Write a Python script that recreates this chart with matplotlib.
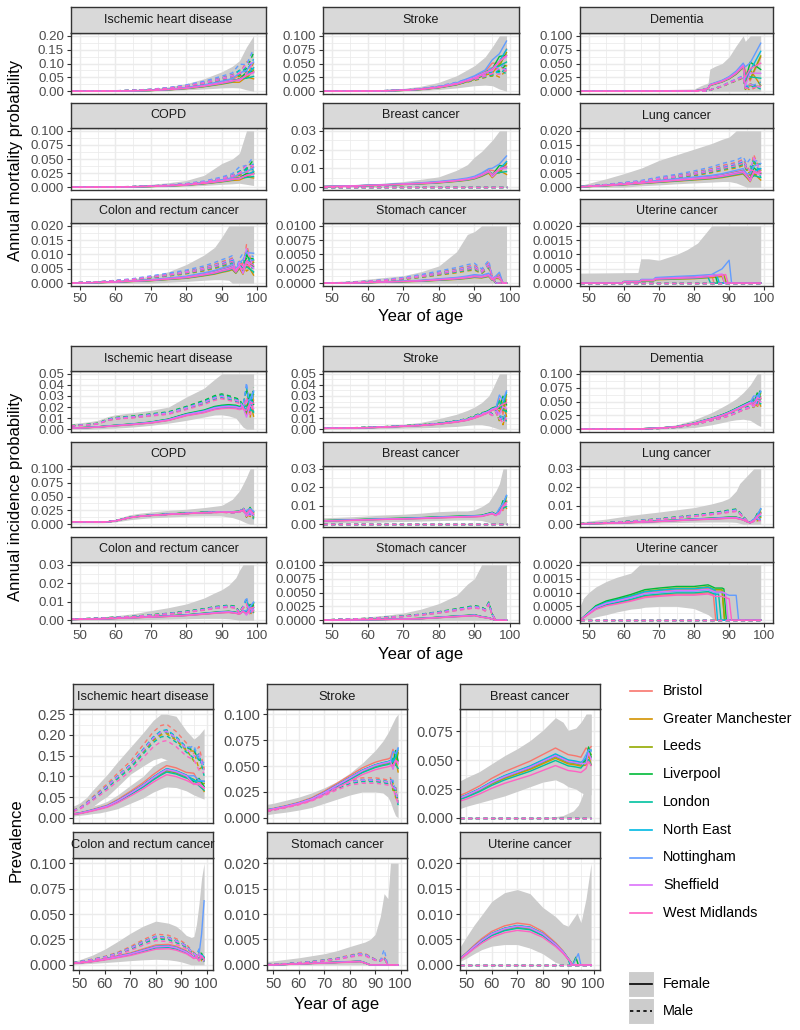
import numpy as np
import matplotlib
matplotlib.use("Agg")
import matplotlib.pyplot as plt
from matplotlib.patches import Rectangle

plt.rcParams['font.family'] = ['Liberation Sans', 'DejaVu Sans']

W, H = 800, 1030

REGIONS = ["Bristol", "Greater Manchester", "Leeds", "Liverpool", "London",
           "North East", "Nottingham", "Sheffield", "West Midlands"]
COLORS = ["#F8766D", "#D39200", "#93AA00", "#00BA38", "#00C19F",
          "#00B9E3", "#619CFF", "#DB72FB", "#FF61C3"]
SEXES = ["Female", "Male"]
X_TICKS = [50, 60, 70, 80, 90, 100]

# relative level of each region
REGION_SCALE_MORT = [1.10, 0.85, 0.95, 1.05, 0.90, 1.00, 1.20, 1.05, 0.95]
REGION_SCALE_INC = [0.95, 1.02, 1.05, 1.08, 0.97, 1.04, 1.00, 1.01, 0.93]
REGION_SCALE_PREV = [1.12, 0.98, 1.00, 1.03, 0.95, 1.04, 1.01, 1.02, 0.88]
# old-age noise of each region (last three points)
REGION_TAIL_F = [[1.3, 0.7, 1.2], [0.7, 1.2, 0.5], [1.1, 0.8, 1.3], [0.8, 1.4, 0.9],
                 [1.2, 0.9, 0.7], [0.9, 1.1, 1.4], [1.4, 1.3, 1.5], [0.6, 1.0, 0.8],
                 [1.0, 1.2, 1.1]]
REGION_TAIL_M = [[0.8, 1.4, 0.7], [1.3, 0.5, 1.2], [0.7, 1.2, 0.9], [1.2, 0.9, 1.4],
                 [1.0, 1.5, 0.6], [1.3, 0.8, 1.1], [1.5, 1.0, 1.3], [0.9, 1.3, 0.8],
                 [1.1, 0.7, 1.0]]

# ---------------- Mortality ----------------
M_IHD_AGE = [47.5, 55, 60, 65, 70, 75, 80, 85, 90, 93, 95, 97, 99]
M_IHD_F = [0.0, 0.0003, 0.0007, 0.0015, 0.003, 0.006, 0.011, 0.019, 0.03, 0.038, 0.045, 0.055, 0.07]
M_IHD_M = [0.0002, 0.0008, 0.0015, 0.003, 0.006, 0.011, 0.019, 0.03, 0.045, 0.055, 0.065, 0.08, 0.11]
M_IHD_LO = [0, 0, 0, 0, 0.001, 0.002, 0.005, 0.008, 0.012, 0.013, 0.012, 0.005, 0.0]
M_IHD_HI = [0.001, 0.002, 0.003, 0.005, 0.009, 0.016, 0.027, 0.045, 0.07, 0.09, 0.11, 0.16, 0.2]

M_STROKE_AGE = [47.5, 55, 60, 65, 70, 75, 80, 85, 90, 93, 95, 97, 99]
M_STROKE_F = [0.0, 0.0002, 0.0004, 0.0008, 0.0017, 0.0035, 0.007, 0.013, 0.024, 0.033, 0.042, 0.052, 0.065]
M_STROKE_M = [0.0, 0.0002, 0.0005, 0.001, 0.002, 0.004, 0.008, 0.014, 0.022, 0.028, 0.032, 0.036, 0.04]
M_STROKE_LO = [0, 0, 0, 0, 0.0005, 0.001, 0.003, 0.006, 0.01, 0.011, 0.01, 0.004, 0.0]
M_STROKE_HI = [0.0005, 0.001, 0.0015, 0.003, 0.005, 0.009, 0.016, 0.028, 0.046, 0.062, 0.08, 0.1, 0.1]

M_DEMENTIA_AGE = [47.5, 80, 82, 84, 84.5, 86, 88, 90, 92, 94, 94.6, 96, 99]
M_DEMENTIA_F = [0, 0.0005, 0.002, 0.005, 0.011, 0.014, 0.018, 0.024, 0.033, 0.046, 0.025, 0.032, 0.045]
M_DEMENTIA_M = [0, 0, 0, 0.0005, 0.002, 0.005, 0.009, 0.015, 0.02, 0.026, 0.006, 0.008, 0.01]
M_DEMENTIA_LO = [0, 0, 0, 0, 0, 0, 0, 0, 0, 0, 0, 0, 0]
M_DEMENTIA_HI = [0, 0.004, 0.01, 0.015, 0.04, 0.045, 0.05, 0.062, 0.082, 0.1, 0.09, 0.1, 0.1]

M_COPD_AGE = [47.5, 55, 60, 65, 70, 75, 80, 85, 90, 93, 95, 97, 99]
M_COPD_F = [0, 0.0001, 0.0003, 0.0007, 0.0014, 0.0025, 0.004, 0.007, 0.011, 0.014, 0.017, 0.02, 0.024]
M_COPD_M = [0, 0.0002, 0.0005, 0.001, 0.002, 0.0035, 0.0055, 0.009, 0.015, 0.02, 0.025, 0.032, 0.04]
M_COPD_LO = [0, 0, 0, 0, 0.0003, 0.0008, 0.0015, 0.003, 0.005, 0.006, 0.007, 0.005, 0.003]
M_COPD_HI = [0.0003, 0.0008, 0.0015, 0.003, 0.005, 0.008, 0.012, 0.021, 0.042, 0.05, 0.06, 0.1, 0.1]

M_BREAST_AGE = [47.5, 55, 60, 65, 70, 75, 80, 85, 88, 90, 92, 94, 95, 97, 99]
M_BREAST_F = [0.0003, 0.0006, 0.0009, 0.0012, 0.0016, 0.002, 0.0026, 0.0035, 0.0042, 0.005, 0.0065, 0.0085, 0.007, 0.009, 0.011]
M_BREAST_M = [0, 0, 0, 0, 0, 0, 0, 0, 0, 0, 0, 0, 0, 0, 0]
M_BREAST_LO = [0, 0, 0, 0, 0, 0, 0, 0, 0, 0, 0, 0, 0, 0, 0]
M_BREAST_HI = [0.0008, 0.0012, 0.0016, 0.0022, 0.003, 0.0042, 0.0055, 0.009, 0.012, 0.016, 0.019, 0.023, 0.025, 0.03, 0.03]

M_LUNG_AGE = [47.5, 55, 60, 65, 70, 75, 80, 85, 88, 90, 92, 94, 95, 96, 97, 99]
M_LUNG_F = [0.0001, 0.0006, 0.001, 0.0015, 0.002, 0.0025, 0.003, 0.0035, 0.004, 0.0045, 0.005, 0.0055, 0.004, 0.003, 0.005, 0.005]
M_LUNG_M = [0.0002, 0.0008, 0.0014, 0.002, 0.003, 0.0038, 0.0048, 0.006, 0.007, 0.0075, 0.008, 0.009, 0.007, 0.006, 0.008, 0.006]
M_LUNG_LO = [0, 0, 0, 0.0005, 0.0008, 0.0012, 0.0015, 0.0018, 0.002, 0.002, 0.0015, 0.0005, 0, 0, 0, 0]
M_LUNG_HI = [0.0006, 0.003, 0.0048, 0.0068, 0.0095, 0.0115, 0.0135, 0.0155, 0.017, 0.0178, 0.02, 0.02, 0.02, 0.02, 0.02, 0.02]

M_COLON_AGE = [47.5, 55, 60, 65, 70, 75, 80, 85, 88, 90, 92, 93, 94, 95, 96, 97, 99]
M_COLON_F = [0, 0.0002, 0.0004, 0.0007, 0.001, 0.0015, 0.002, 0.003, 0.0037, 0.0044, 0.005, 0.0055, 0.004, 0.006, 0.005, 0.007, 0.006]
M_COLON_M = [0.0001, 0.0004, 0.0008, 0.0013, 0.0021, 0.0029, 0.0038, 0.005, 0.006, 0.0068, 0.0075, 0.008, 0.004, 0.007, 0.006, 0.009, 0.006]
M_COLON_LO = [0, 0, 0, 0, 0, 0.0003, 0.0006, 0.001, 0.0012, 0.0012, 0.001, 0, 0, 0, 0, 0, 0]
M_COLON_HI = [0.0002, 0.0006, 0.001, 0.0015, 0.0025, 0.004, 0.0065, 0.0098, 0.0125, 0.016, 0.02, 0.02, 0.02, 0.02, 0.02, 0.02, 0.02]

M_STOMACH_AGE = [47.5, 55, 60, 65, 70, 75, 80, 85, 88, 90, 92, 94, 95, 96, 97, 98, 99]
M_STOMACH_F = [0, 0, 0.0001, 0.0002, 0.0003, 0.0004, 0.0006, 0.0008, 0.001, 0.0012, 0.0011, 0.0014, 0.0006, 0.001, 0.0012, 0, 0]
M_STOMACH_M = [0, 0.0001, 0.0003, 0.0005, 0.0008, 0.0012, 0.0017, 0.0022, 0.0026, 0.0028, 0.002, 0.0032, 0.001, 0, 0, 0, 0]
M_STOMACH_LO = [0, 0, 0, 0, 0, 0, 0, 0, 0, 0, 0, 0, 0, 0, 0, 0, 0]
M_STOMACH_HI = [0.0002, 0.0004, 0.0007, 0.001, 0.0013, 0.002, 0.003, 0.0055, 0.0085, 0.009, 0.01, 0.01, 0.01, 0.01, 0.01, 0.01, 0.01]

M_UTERINE_AGE = [47.5, 59.5, 60, 64.5, 65, 68.5, 69, 75, 80, 85, 88, 90, 99]
M_UTERINE_F = [0, 0, 0.00005, 0.00005, 0.0001, 0.0001, 0.00015, 0.00018, 0.0002, 0.00025, 0.0003, 0.00035, 0.00035]
M_UTERINE_M = [0, 0, 0, 0, 0, 0, 0, 0, 0, 0, 0, 0, 0]
M_UTERINE_RAGE = [47.5, 64, 64.8, 67, 70, 75, 78, 81, 83, 85, 99]
M_UTERINE_LO = [0, 0, 0, 0, 0, 0, 0, 0, 0, 0, 0]
M_UTERINE_HI = [0.00035, 0.00037, 0.00085, 0.00085, 0.0008, 0.001, 0.00117, 0.0014, 0.0017, 0.002, 0.002]
M_UTERINE_END = [85, 88, 88.5, 86, 84, 86.5, 90, 88, 89]

# ---------------- Incidence ----------------
I_IHD_AGE = [47.5, 52, 55, 58, 60, 65, 70, 75, 80, 85, 88, 90, 92, 94, 95, 96, 97, 98, 99]
I_IHD_F = [0.001, 0.0015, 0.002, 0.0028, 0.0033, 0.0045, 0.006, 0.0085, 0.013, 0.016, 0.019, 0.02, 0.0205, 0.02, 0.019, 0.02, 0.018, 0.021, 0.023]
I_IHD_M = [0.003, 0.004, 0.005, 0.0085, 0.0098, 0.011, 0.0128, 0.0145, 0.019, 0.024, 0.028, 0.0295, 0.028, 0.026, 0.025, 0.02, 0.028, 0.02, 0.025]
I_IHD_LO = [0, 0, 0.0003, 0.0008, 0.001, 0.002, 0.0035, 0.0055, 0.008, 0.011, 0.0128, 0.013, 0.012, 0.01, 0.006, 0.002, 0, 0, 0]
I_IHD_HI = [0.005, 0.0065, 0.008, 0.0115, 0.013, 0.015, 0.017, 0.02, 0.029, 0.037, 0.045, 0.05, 0.05, 0.05, 0.05, 0.05, 0.05, 0.05, 0.05]

I_STROKE_AGE = [47.5, 55, 60, 65, 70, 75, 80, 85, 88, 90, 92, 94, 95, 96, 97, 98, 99]
I_STROKE_F = [0.0008, 0.0011, 0.0014, 0.002, 0.0027, 0.0035, 0.0048, 0.0068, 0.0085, 0.0105, 0.013, 0.016, 0.018, 0.019, 0.022, 0.02, 0.023]
I_STROKE_M = [0.0008, 0.0012, 0.0016, 0.0022, 0.003, 0.0038, 0.005, 0.0072, 0.009, 0.0115, 0.014, 0.015, 0.013, 0.016, 0.01, 0.008, 0.012]
I_STROKE_LO = [0, 0.0002, 0.0004, 0.0006, 0.001, 0.0013, 0.0018, 0.0025, 0.0035, 0.004, 0.004, 0.003, 0.002, 0.001, 0, 0, 0]
I_STROKE_HI = [0.0018, 0.0022, 0.0027, 0.0035, 0.0045, 0.0062, 0.0095, 0.0135, 0.017, 0.02, 0.024, 0.03, 0.036, 0.043, 0.05, 0.05, 0.05]

I_DEMENTIA_AGE = [47.5, 60, 65, 70, 75, 80, 85, 88, 90, 92, 94, 96, 97, 98, 99]
I_DEMENTIA_F = [0, 0.0002, 0.0008, 0.002, 0.0045, 0.0105, 0.019, 0.025, 0.03, 0.036, 0.042, 0.048, 0.05, 0.052, 0.055]
I_DEMENTIA_M = [0, 0.0002, 0.0006, 0.0015, 0.0035, 0.0085, 0.016, 0.021, 0.025, 0.03, 0.036, 0.04, 0.045, 0.05, 0.06]
I_DEMENTIA_LO = [0, 0, 0, 0, 0.001, 0.003, 0.008, 0.012, 0.015, 0.017, 0.018, 0.016, 0.012, 0.008, 0.005]
I_DEMENTIA_HI = [0, 0.0008, 0.0018, 0.0035, 0.008, 0.017, 0.03, 0.04, 0.047, 0.055, 0.066, 0.08, 0.09, 0.1, 0.1]

I_COPD_AGE = [47.5, 52, 56, 58, 60, 62, 64, 67, 70, 75, 80, 85, 90, 93, 95, 96, 97, 98, 99]
I_COPD_F = [0.0045, 0.0042, 0.004, 0.0045, 0.006, 0.009, 0.012, 0.0145, 0.016, 0.018, 0.0195, 0.021, 0.022, 0.022, 0.023, 0.025, 0.02, 0.024, 0.018]
I_COPD_M = [0.0045, 0.0042, 0.004, 0.0045, 0.006, 0.009, 0.012, 0.0145, 0.016, 0.018, 0.0195, 0.021, 0.022, 0.021, 0.022, 0.03, 0.015, 0.02, 0.012]
I_COPD_LO = [0.0025, 0.0025, 0.0025, 0.003, 0.004, 0.006, 0.008, 0.01, 0.0115, 0.013, 0.0145, 0.015, 0.015, 0.012, 0.008, 0.005, 0.002, 0, 0]
I_COPD_HI = [0.0065, 0.006, 0.0058, 0.0065, 0.009, 0.013, 0.017, 0.02, 0.022, 0.025, 0.027, 0.03, 0.034, 0.045, 0.06, 0.072, 0.085, 0.1, 0.1]

I_BREAST_AGE = [47.5, 55, 60, 65, 70, 75, 80, 85, 88, 90, 92, 94, 95, 96, 97, 98, 99]
I_BREAST_F = [0.0018, 0.0022, 0.0025, 0.0028, 0.003, 0.0033, 0.0037, 0.004, 0.0042, 0.0043, 0.0045, 0.0055, 0.006, 0.005, 0.007, 0.0095, 0.012]
I_BREAST_M = [0, 0, 0, 0, 0, 0, 0, 0, 0, 0, 0, 0, 0, 0, 0, 0, 0]
I_BREAST_LO = [0.0005, 0.0008, 0.001, 0.0012, 0.0015, 0.0017, 0.002, 0.0022, 0.0023, 0.0022, 0.002, 0.001, 0, 0, 0, 0, 0]
I_BREAST_HI = [0.0035, 0.004, 0.0045, 0.005, 0.0054, 0.006, 0.0068, 0.0072, 0.0072, 0.0078, 0.0095, 0.012, 0.015, 0.018, 0.022, 0.03, 0.03]

I_LUNG_AGE = [47.5, 55, 60, 65, 70, 75, 80, 85, 88, 90, 92, 93, 94, 95, 96, 97, 98, 99]
I_LUNG_F = [0.0002, 0.0005, 0.0008, 0.0012, 0.0016, 0.0021, 0.0026, 0.003, 0.0033, 0.0035, 0.0035, 0.003, 0.0025, 0.0015, 0.0008, 0.002, 0.004, 0.006]
I_LUNG_M = [0.0003, 0.0008, 0.0013, 0.002, 0.0027, 0.0036, 0.0045, 0.0056, 0.0064, 0.007, 0.0075, 0.006, 0.004, 0.002, 0.001, 0.002, 0.003, 0.002]
I_LUNG_LO = [0, 0, 0.0002, 0.0004, 0.0007, 0.0009, 0.0011, 0.0012, 0.0012, 0.0012, 0.001, 0.0005, 0, 0, 0, 0, 0, 0]
I_LUNG_HI = [0.0012, 0.0028, 0.0042, 0.0055, 0.0066, 0.0078, 0.009, 0.011, 0.0125, 0.014, 0.018, 0.022, 0.024, 0.026, 0.028, 0.03, 0.03, 0.03]

I_COLON_AGE = [47.5, 55, 60, 65, 70, 75, 80, 85, 88, 90, 92, 94, 95, 96, 97, 98, 99]
I_COLON_F = [0.0004, 0.0007, 0.001, 0.0014, 0.0018, 0.0022, 0.0027, 0.0035, 0.004, 0.0043, 0.0045, 0.004, 0.0035, 0.005, 0.004, 0.006, 0.007]
I_COLON_M = [0.0006, 0.001, 0.0015, 0.002, 0.0027, 0.0035, 0.0045, 0.0058, 0.0068, 0.0072, 0.0075, 0.007, 0.004, 0.007, 0.009, 0.004, 0.006]
I_COLON_LO = [0, 0, 0, 0.0002, 0.0004, 0.0006, 0.0008, 0.001, 0.001, 0.001, 0.0008, 0.0003, 0, 0, 0, 0, 0]
I_COLON_HI = [0.0009, 0.0017, 0.0024, 0.0035, 0.0052, 0.0068, 0.0088, 0.012, 0.0148, 0.0165, 0.019, 0.023, 0.027, 0.03, 0.03, 0.03, 0.03]

I_STOMACH_AGE = [47.5, 55, 60, 65, 70, 75, 80, 85, 88, 90, 92, 93, 94, 95, 96, 97, 99]
I_STOMACH_F = [0, 0.00005, 0.0001, 0.00015, 0.0002, 0.0003, 0.0005, 0.0007, 0.0008, 0.0009, 0.0006, 0.0005, 0.0004, 0.0002, 0, 0, 0]
I_STOMACH_M = [0.00005, 0.0002, 0.0003, 0.0005, 0.0007, 0.001, 0.0014, 0.0019, 0.0022, 0.0024, 0.0022, 0.0018, 0.003, 0.001, 0, 0, 0]
I_STOMACH_LO = [0, 0, 0, 0, 0, 0, 0, 0, 0, 0, 0, 0, 0, 0, 0, 0, 0]
I_STOMACH_HI = [0.0001, 0.0004, 0.0006, 0.0009, 0.0013, 0.002, 0.003, 0.0045, 0.0065, 0.0075, 0.01, 0.01, 0.01, 0.01, 0.01, 0.01, 0.01]

I_UTERINE_AGE = [47.5, 48.5, 50, 52, 55, 58, 62, 66, 70, 75, 80, 84, 86, 88, 90, 92, 99]
I_UTERINE_F = [0, 0.0001, 0.00025, 0.00045, 0.0006, 0.00068, 0.0008, 0.00095, 0.001, 0.00105, 0.00105, 0.0011, 0.001, 0.001, 0.0009, 0.0009, 0.0009]
I_UTERINE_M = [0, 0, 0, 0, 0, 0, 0, 0, 0, 0, 0, 0, 0, 0, 0, 0, 0]
I_UTERINE_RAGE = [47.5, 48.5, 50, 52, 55, 58, 62, 64.5, 66, 70, 75, 80, 84, 86, 99]
I_UTERINE_LO = [0, 0, 0.00005, 0.00012, 0.0002, 0.0003, 0.0004, 0.00043, 0.00047, 0.0005, 0.0005, 0.00042, 0.0002, 0, 0]
I_UTERINE_HI = [0.0005, 0.0008, 0.001, 0.0012, 0.0014, 0.00155, 0.0017, 0.002, 0.002, 0.002, 0.002, 0.002, 0.002, 0.002, 0.002]
I_UTERINE_END = [85.5, 88, 88, 88.5, 87, 86, 92, 89, 90]

# ---------------- Prevalence ----------------
P_IHD_AGE = [47.5, 50, 53, 55, 58, 61, 65, 70, 75, 79, 82, 84.3, 88, 92, 95, 97, 99]
P_IHD_F = [0.009, 0.011, 0.015, 0.018, 0.023, 0.028, 0.04, 0.058, 0.077, 0.095, 0.107, 0.115, 0.11, 0.1, 0.09, 0.083, 0.076]
P_IHD_M = [0.017, 0.022, 0.035, 0.045, 0.06, 0.075, 0.098, 0.124, 0.16, 0.189, 0.203, 0.206, 0.19, 0.165, 0.15, 0.14, 0.12]
P_IHD_LO = [0.004, 0.006, 0.008, 0.01, 0.012, 0.016, 0.022, 0.035, 0.048, 0.062, 0.07, 0.075, 0.073, 0.065, 0.055, 0.05, 0.045]
P_IHD_HI = [0.015, 0.018, 0.025, 0.028, 0.033, 0.04, 0.055, 0.078, 0.1, 0.125, 0.135, 0.14, 0.135, 0.125, 0.115, 0.11, 0.1]
P_IHD_LO2 = [0.008, 0.012, 0.02, 0.026, 0.04, 0.052, 0.075, 0.105, 0.125, 0.14, 0.145, 0.14, 0.125, 0.1, 0.085, 0.075, 0.065]
P_IHD_HI2 = [0.028, 0.035, 0.05, 0.065, 0.085, 0.105, 0.135, 0.17, 0.205, 0.235, 0.25, 0.25, 0.245, 0.21, 0.19, 0.2, 0.215]

P_STROKE_AGE = [47.5, 50, 55, 60, 65, 70, 75, 80, 85, 90, 93, 95, 96, 97, 98, 99]
P_STROKE_F = [0.0075, 0.0085, 0.011, 0.014, 0.018, 0.024, 0.031, 0.038, 0.045, 0.05, 0.052, 0.053, 0.054, 0.055, 0.055, 0.056]
P_STROKE_M = [0.0065, 0.0078, 0.0105, 0.0135, 0.0175, 0.023, 0.029, 0.034, 0.036, 0.036, 0.035, 0.034, 0.036, 0.03, 0.025, 0.015]
P_STROKE_LO = [0.003, 0.004, 0.0055, 0.0075, 0.01, 0.014, 0.018, 0.022, 0.025, 0.025, 0.024, 0.02, 0.015, 0.008, 0.002, 0]
P_STROKE_HI = [0.013, 0.014, 0.017, 0.02, 0.024, 0.029, 0.035, 0.043, 0.053, 0.065, 0.074, 0.082, 0.087, 0.092, 0.097, 0.1]

P_BREAST_AGE = [47.5, 50, 55, 60, 65, 70, 75, 80, 85, 88, 90, 93, 95, 97, 98, 99]
P_BREAST_F = [0.017, 0.019, 0.024, 0.03, 0.035, 0.039, 0.043, 0.048, 0.053, 0.05, 0.048, 0.047, 0.046, 0.05, 0.055, 0.052]
P_BREAST_M = [0, 0, 0, 0, 0, 0, 0, 0, 0, 0, 0, 0, 0, 0, 0, 0]
P_BREAST_LO = [0.008, 0.01, 0.013, 0.016, 0.019, 0.023, 0.027, 0.031, 0.033, 0.03, 0.027, 0.025, 0.022, 0.02, 0.02, 0.02]
P_BREAST_HI = [0.032, 0.035, 0.04, 0.047, 0.054, 0.06, 0.067, 0.076, 0.087, 0.083, 0.076, 0.078, 0.083, 0.09, 0.09, 0.09]
P_BREAST_RAGE2 = [47.5, 80, 85, 88, 90, 92, 94, 95, 96, 96.5, 97, 99]
P_BREAST_LO2 = [0, 0, 0, 0, 0, 0, 0, 0, 0, 0, 0, 0]
P_BREAST_HI2 = [0, 0, 0.001, 0.002, 0.004, 0.006, 0.011, 0.016, 0.022, 0.03, 0.09, 0.09]

P_COLON_AGE = [47.5, 50, 55, 60, 65, 70, 75, 80, 85, 88, 90, 92, 94, 95, 96, 97, 98, 99]
P_COLON_F = [0.0015, 0.002, 0.0035, 0.0055, 0.008, 0.0105, 0.014, 0.0175, 0.018, 0.0165, 0.0145, 0.0125, 0.009, 0.007, 0.008, 0.005, 0.009, 0.006]
P_COLON_M = [0.002, 0.003, 0.005, 0.0075, 0.011, 0.016, 0.022, 0.027, 0.026, 0.023, 0.021, 0.018, 0.013, 0.011, 0.009, 0.012, 0.006, 0.004]
P_COLON_LO = [0.0005, 0.0008, 0.0015, 0.0023, 0.0032, 0.0042, 0.005, 0.0055, 0.005, 0.004, 0.003, 0.0015, 0, 0, 0, 0, 0, 0]
P_COLON_HI = [0.0035, 0.005, 0.0095, 0.0155, 0.023, 0.031, 0.038, 0.043, 0.041, 0.038, 0.034, 0.029, 0.027, 0.028, 0.04, 0.06, 0.085, 0.1]

P_STOMACH_AGE = [47.5, 50, 55, 60, 65, 70, 75, 80, 84, 86, 88, 90, 92, 93.5, 95, 96, 99]
P_STOMACH_F = [0, 0, 0.0001, 0.0002, 0.0003, 0.0004, 0.0005, 0.0006, 0.0007, 0.0004, 0, 0, 0, 0, 0, 0, 0]
P_STOMACH_M = [0.0001, 0.0001, 0.0002, 0.0004, 0.0006, 0.0009, 0.0012, 0.0017, 0.0021, 0.002, 0.0015, 0.001, 0.0008, 0.0015, 0, 0, 0]
P_STOMACH_LO = [0, 0, 0, 0, 0, 0, 0, 0, 0, 0, 0, 0, 0, 0, 0, 0, 0]
P_STOMACH_HI = [0.0007, 0.0008, 0.0011, 0.0014, 0.0018, 0.0022, 0.0028, 0.0036, 0.0042, 0.0045, 0.005, 0.006, 0.0095, 0.014, 0.013, 0.02, 0.02]

P_UTERINE_AGE = [47.5, 50, 53, 56, 60, 65, 70, 75, 80, 85, 88, 90, 91, 99]
P_UTERINE_F = [0.0012, 0.0022, 0.0035, 0.0047, 0.006, 0.007, 0.0075, 0.0072, 0.006, 0.004, 0.0025, 0.0012, 0.0006, 0.0006]
P_UTERINE_M = [0, 0, 0, 0, 0, 0, 0, 0, 0, 0, 0, 0, 0, 0]
P_UTERINE_RAGE = [47.5, 50, 53, 56, 60, 65, 70, 75, 80, 85, 88, 90, 93.5, 95, 97, 99]
P_UTERINE_LO = [0.0007, 0.0013, 0.0022, 0.003, 0.0037, 0.004, 0.004, 0.0033, 0.0022, 0.0005, 0, 0, 0, 0, 0, 0]
P_UTERINE_HI = [0.0035, 0.0055, 0.0078, 0.0098, 0.0125, 0.0142, 0.0148, 0.014, 0.0113, 0.0095, 0.008, 0.0076, 0.0102, 0.0083, 0.013, 0.02]
P_UTERINE_END = [90.5, 90.5, 91, 91, 90, 90.5, 91, 90.5, 91]

# single-region features
OVERRIDES = [
    ("M_UTERINE", "Nottingham", "F", [85, 88, 90], [0.0003, 0.0005, 0.0008]),
    ("P_COLON", "Nottingham", "F", [96, 97, 98, 99], [0.008, 0.01, 0.03, 0.063]),
    ("P_STOMACH", "Nottingham", "M", [92, 93.5, 95], [0.0008, 0.003, 0.0]),
    ("P_UTERINE", "Nottingham", "F", [92, 94, 95], [0.0002, 0.0022, 0.0]),
    ("P_UTERINE", "Liverpool", "F", [92, 93, 94], [0.0003, 0.0015, 0.0]),
]

# panel specs: prefix, strip title, y max, y step, decimals, region spread, tail jag
BLOCK1 = [("M_IHD", "Ischemic heart disease", 0.20, 0.05, 2, 1.0, 0.5),
          ("M_STROKE", "Stroke", 0.10, 0.025, 3, 0.8, 0.4),
          ("M_DEMENTIA", "Dementia", 0.10, 0.025, 3, 0.5, 1.5),
          ("M_COPD", "COPD", 0.10, 0.025, 3, 1.0, 0.4),
          ("M_BREAST", "Breast cancer", 0.03, 0.01, 2, 0.8, 0.6),
          ("M_LUNG", "Lung cancer", 0.02, 0.005, 3, 1.0, 0.8),
          ("M_COLON", "Colon and rectum cancer", 0.02, 0.005, 3, 1.0, 0.9),
          ("M_STOMACH", "Stomach cancer", 0.01, 0.0025, 4, 1.2, 0.7),
          ("M_UTERINE", "Uterine cancer", 0.002, 0.0005, 4, 1.5, 0.0)]
BLOCK2 = [("I_IHD", "Ischemic heart disease", 0.05, 0.01, 2, 1.0, 1.0),
          ("I_STROKE", "Stroke", 0.05, 0.01, 2, 0.8, 1.0),
          ("I_DEMENTIA", "Dementia", 0.10, 0.025, 3, 0.6, 0.5),
          ("I_COPD", "COPD", 0.10, 0.025, 3, 0.3, 0.6),
          ("I_BREAST", "Breast cancer", 0.03, 0.01, 2, 1.0, 0.6),
          ("I_LUNG", "Lung cancer", 0.03, 0.01, 2, 1.2, 0.8),
          ("I_COLON", "Colon and rectum cancer", 0.03, 0.01, 2, 1.0, 0.8),
          ("I_STOMACH", "Stomach cancer", 0.01, 0.0025, 4, 1.2, 0.6),
          ("I_UTERINE", "Uterine cancer", 0.002, 0.0005, 4, 2.0, 0.0)]
BLOCK3 = [("P_IHD", "Ischemic heart disease", 0.25, 0.05, 2, 0.8, 0.3),
          ("P_STROKE", "Stroke", 0.10, 0.025, 3, 0.6, 0.4),
          ("P_BREAST", "Breast cancer", 0.09, 0.025, 3, 1.2, 0.2),
          ("P_COLON", "Colon and rectum cancer", 0.10, 0.025, 3, 1.0, 0.6),
          ("P_STOMACH", "Stomach cancer", 0.02, 0.005, 3, 1.0, 0.3),
          ("P_UTERINE", "Uterine cancer", 0.02, 0.005, 3, 0.8, 0.0)]

G = globals()
RIBBON = "#CCCCCC"
LINE_W = 1.0
DASH = (0, (3, 2.5))


def rect(x0, y0, x1, y1):
    return [x0 / W, 1 - y1 / H, (x1 - x0) / W, (y1 - y0) / H]


def region_series(prefix, sex, r, scale, spread, jag):
    ages = list(G[prefix + "_AGE"])
    vals = np.array(G[prefix + "_" + sex], float) * (1 + spread * (scale[r] - 1))
    if jag:
        tail = REGION_TAIL_F[r] if sex == "F" else REGION_TAIL_M[r]
        vals[-3:] *= 1 + jag * (np.array(tail) - 1)
    vals = list(vals)
    end = G.get(prefix + "_END")
    if end is not None and sex == "F":
        e = end[r]
        keep = [i for i, a in enumerate(ages) if a <= e]
        last = float(np.interp(e, ages, vals))
        ages = [ages[i] for i in keep] + [e, e + 0.7, 99]
        vals = [vals[i] for i in keep] + [last, 0.0, 0.0]
    for (p, reg, s, oa, ov) in OVERRIDES:
        if p == prefix and reg == REGIONS[r] and s == sex:
            na = [a for a in ages if a < oa[0]] + list(oa) + [a for a in ages if a > oa[-1]]
            nv = ([v for a, v in zip(ages, vals) if a < oa[0]] + list(ov)
                  + [v for a, v in zip(ages, vals) if a > oa[-1]])
            ages, vals = na, nv
    return ages, vals


def draw_panel(fig, col, row, spec, scale, show_x, tick_fs, strip_fs):
    prefix, title, ymax, step, dec, spread, jag = spec
    x0, x1 = col
    st, sb, pb = row
    ax = fig.add_axes(rect(x0, sb, x1, pb))
    ax.set_xlim(47.5, 102.5)
    ax.set_ylim(-0.05 * ymax, 1.05 * ymax)
    yt = np.arange(0, ymax + step * 0.01, step)
    ymin_t = [v - step / 2 for v in yt] + [yt[-1] + step / 2]
    ymin_t = [v for v in ymin_t if -0.05 * ymax <= v <= 1.05 * ymax]
    ax.set_yticks(yt)
    ax.set_yticklabels([f"{v:.{dec}f}" for v in yt])
    ax.set_yticks(ymin_t, minor=True)
    ax.set_xticks(X_TICKS)
    ax.set_xticks([55, 65, 75, 85, 95], minor=True)
    ax.set_axisbelow(True)
    ax.grid(which="major", color="#EBEBEB", lw=1.05)
    ax.grid(which="minor", color="#EBEBEB", lw=0.55)
    ax.tick_params(which="minor", length=0)
    ax.tick_params(which="major", length=3, width=0.8, color="#333333",
                   labelsize=tick_fs, labelcolor="#4D4D4D", pad=2)
    if not show_x:
        ax.tick_params(axis="x", which="major", length=0, labelbottom=False)
    for s in ax.spines.values():
        s.set_color("#333333")
        s.set_linewidth(1.0)
    # ribbons
    rage = G.get(prefix + "_RAGE", G[prefix + "_AGE"])
    lo = np.minimum(G[prefix + "_LO"], ymax)
    hi = np.minimum(G[prefix + "_HI"], ymax)
    ax.fill_between(rage, lo, hi, color=RIBBON, lw=0)
    if prefix + "_HI2" in G:
        rage2 = G.get(prefix + "_RAGE2", G[prefix + "_AGE"])
        ax.fill_between(rage2, np.minimum(G[prefix + "_LO2"], ymax),
                        np.minimum(G[prefix + "_HI2"], ymax), color=RIBBON, lw=0)
    # lines
    for r in range(len(REGIONS)):
        for sex in ["F", "M"]:
            a, v = region_series(prefix, sex, r, scale, spread, jag)
            ax.plot(a, v, color=COLORS[r], lw=LINE_W,
                    ls="-" if sex == "F" else DASH, solid_joinstyle="round")
    # strip
    sax = fig.add_axes(rect(x0, st, x1, sb))
    sax.set_facecolor("#D9D9D9")
    sax.set_xticks([])
    sax.set_yticks([])
    for s in sax.spines.values():
        s.set_color("#333333")
        s.set_linewidth(1.0)
    t = sax.text(0.5, 0.5, title, ha="center", va="center", fontsize=strip_fs,
                 color="#1A1A1A", transform=sax.transAxes)
    t.set_clip_path(sax.patch)
    return ax


fig = plt.figure(figsize=(W / 100, H / 100), dpi=100)

B12_COLS = [(71, 266), (323, 519), (580, 773)]
B1_ROWS = [(7, 33, 94), (103, 128, 190), (199, 223, 286)]
B2_ROWS = [(346, 371, 432), (442, 466, 527), (537, 562, 623)]
B3_COLS = [(73, 213), (267, 407), (460, 600)]
B3_ROWS = [(684, 709, 823), (832, 858, 970)]

for i, spec in enumerate(BLOCK1):
    draw_panel(fig, B12_COLS[i % 3], B1_ROWS[i // 3], spec, REGION_SCALE_MORT,
               i // 3 == 2, 9.6, 9.0)
for i, spec in enumerate(BLOCK2):
    draw_panel(fig, B12_COLS[i % 3], B2_ROWS[i // 3], spec, REGION_SCALE_INC,
               i // 3 == 2, 9.6, 9.0)
for i, spec in enumerate(BLOCK3):
    draw_panel(fig, B3_COLS[i % 3], B3_ROWS[i // 3], spec, REGION_SCALE_PREV,
               i // 3 == 1, 10.5, 9.3)

# axis titles
fig.text(421 / W, 1 - 316 / H, "Year of age", ha="center", va="center", fontsize=12)
fig.text(421 / W, 1 - 655 / H, "Year of age", ha="center", va="center", fontsize=12)
fig.text(337 / W, 1 - 1004 / H, "Year of age", ha="center", va="center", fontsize=12)
fig.text(16 / W, 1 - 160 / H, "Annual mortality probability", ha="center", va="center",
         rotation=90, fontsize=12)
fig.text(16 / W, 1 - 497 / H, "Annual incidence probability", ha="center", va="center",
         rotation=90, fontsize=12)
fig.text(16 / W, 1 - 840 / H, "Prevalence", ha="center", va="center",
         rotation=90, fontsize=12)

# legend
lax = fig.add_axes(rect(615, 675, 800, 1030))
lax.set_xlim(615, 800)
lax.set_ylim(1030, 675)
lax.axis("off")
for r, name in enumerate(REGIONS):
    y = 691 + r * 27.75
    lax.plot([630, 652], [y, y], color=COLORS[r], lw=1.2)
    lax.text(663, y, name, va="center", ha="left", fontsize=10.4)
for k, sex in enumerate(SEXES):
    y0 = 971 + k * 27
    lax.add_patch(Rectangle((628, y0), 26, 26, facecolor=RIBBON, edgecolor="white", lw=0.8))
    lax.plot([630, 652], [y0 + 13, y0 + 13], color="black", lw=1.2,
             ls="-" if k == 0 else (0, (2, 2)))
    lax.text(663, y0 + 13, sex, va="center", ha="left", fontsize=10.4)

fig.savefig("out.png", dpi=100)
